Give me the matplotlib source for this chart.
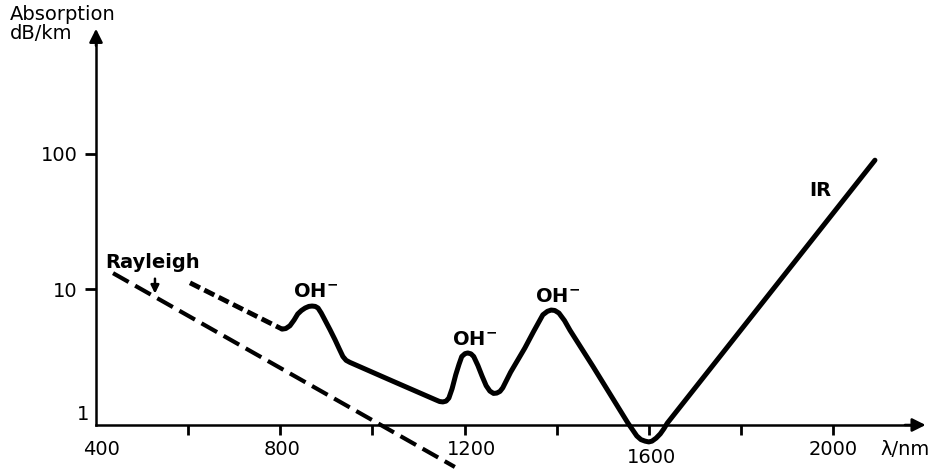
import numpy as np
import matplotlib
matplotlib.use("Agg")
import matplotlib.pyplot as plt

# --- dati (lambda in nm, assorbimento in dB/km) ---
# curva principale (tratto continuo)
solid_wl = [804, 812, 821, 830, 838, 846, 854, 862, 869, 876, 882, 889, 897, 908,
            919, 928, 936, 943, 951, 1045, 1138, 1146, 1153, 1160, 1166, 1173,
            1181, 1188, 1194, 1201, 1207, 1214, 1220, 1229, 1238, 1247, 1255,
            1263, 1270, 1277, 1283, 1300, 1331, 1350, 1370, 1380, 1388, 1396,
            1405, 1417, 1429, 1479, 1555, 1565, 1574, 1583, 1592, 1600, 1607,
            1616, 1625, 1633, 1640, 2091]
solid_db = [5.1, 5.15, 5.4, 5.95, 6.6, 7.0, 7.3, 7.5, 7.55, 7.5, 7.3, 6.7, 5.95,
            5.05, 4.25, 3.65, 3.2, 3.0, 2.9, 2.1, 1.53, 1.49, 1.48, 1.5, 1.58,
            1.85, 2.35, 2.8, 3.2, 3.36, 3.4, 3.35, 3.2, 2.75, 2.3, 1.95, 1.78,
            1.71, 1.72, 1.77, 1.88, 2.45, 3.7, 4.9, 6.5, 6.9, 7.05, 7.0, 6.7,
            5.9, 5.0, 2.7, 1.03, 0.92, 0.83, 0.78, 0.76, 0.75, 0.76, 0.8, 0.86,
            0.94, 1.03, 90]

# prolungamento tratteggiato verso il visibile
upper_wl = [604, 804]
upper_db = [11.2, 5.1]

# diffusione di Rayleigh
rayleigh_wl = [437, 1179]
rayleigh_db = [13.2, 0.49]

x_ticks = [600, 800, 1000, 1200, 1400, 1600, 1800, 2000]
x_labels = ["400", "800", "1200", "1600", "2000"]
x_label_pos = [413, 804, 1216, 1605, 2000]
y_ticks = [10, 100]
y_labels = ["10", "100"]

FS = 14
plt.rcParams["font.family"] = ["DejaVu Sans"]
plt.rcParams["mathtext.fontset"] = "dejavusans"

fig = plt.figure(figsize=(9.4, 4.71), dpi=100)
ax = fig.add_axes([96 / 940, 0.0, 831 / 940, 443 / 471])
ax.set_xlim(400, 2204)
ax.set_yscale("log")
ax.set_ylim(0.4575, 851)

ax.plot(solid_wl, solid_db, color="black", lw=3.6, solid_joinstyle="round",
        solid_capstyle="round", clip_on=False)
ax.plot(upper_wl, upper_db, color="black", lw=3.5, dashes=(2.3, 1.0),
        dash_capstyle="butt")
ax.plot(rayleigh_wl, rayleigh_db, color="black", lw=3.0, dashes=(4.3, 1.8),
        dash_capstyle="butt")

# assi con frecce
for side in ["top", "right"]:
    ax.spines[side].set_visible(False)
ax.spines["bottom"].set_position(("data", 1))
ax.spines["left"].set_position(("data", 400))
ax.spines["bottom"].set_linewidth(1.8)
ax.spines["left"].set_linewidth(1.8)
ax.spines["bottom"].set_bounds(400, 2180)
ax.spines["left"].set_bounds(1, 760)
ax.annotate("", xy=(2207, 1), xytext=(2150, 1),
            arrowprops=dict(arrowstyle="-|>", color="black", lw=1.8,
                            mutation_scale=20), annotation_clip=False)
ax.annotate("", xy=(400, 880), xytext=(400, 600),
            arrowprops=dict(arrowstyle="-|>", color="black", lw=1.8,
                            mutation_scale=20), annotation_clip=False)

ax.set_xticks(x_ticks)
ax.set_xticklabels([""] * len(x_ticks))
ax.set_yticks(y_ticks)
ax.set_yticklabels(y_labels, fontsize=FS)
ax.minorticks_off()
ax.tick_params(axis="x", direction="out", length=7, width=2)
ax.tick_params(axis="y", direction="out", length=8, width=2, pad=5)

for lab, pos in zip(x_labels, x_label_pos):
    yy = 0.571 if lab == "1600" else 0.654
    ax.text(pos, yy, lab, fontsize=FS, ha="center", va="center")
ax.text(2156, 0.654, "λ/nm", fontsize=FS, ha="center", va="center",
        clip_on=False)
ax.text(372, 1.185, "1", fontsize=FS, ha="center", va="center")

fig.text(10 / 940, 1 - 5 / 471, "Absorption\ndB/km", fontsize=FS,
         ha="left", va="top", linespacing=1.0)

# etichette delle curve
ax.text(522, 15.7, "Rayleigh", fontsize=FS, ha="center", va="center",
        fontweight="bold")
ax.annotate("", xy=(528, 8.9), xytext=(528, 12.6),
            arrowprops=dict(arrowstyle="-|>", color="black", lw=1.8,
                            mutation_scale=12))
for wl, db in [(828, 8.8), (1173, 3.9), (1353, 8.1)]:
    ax.text(wl, db, r"OH$^{\mathbf{-}}$", fontsize=FS, ha="left",
            va="baseline", fontweight="bold")
ax.text(1972, 54, "IR", fontsize=FS, ha="center", va="center", fontweight="bold")

fig.savefig("out.png", dpi=100)
